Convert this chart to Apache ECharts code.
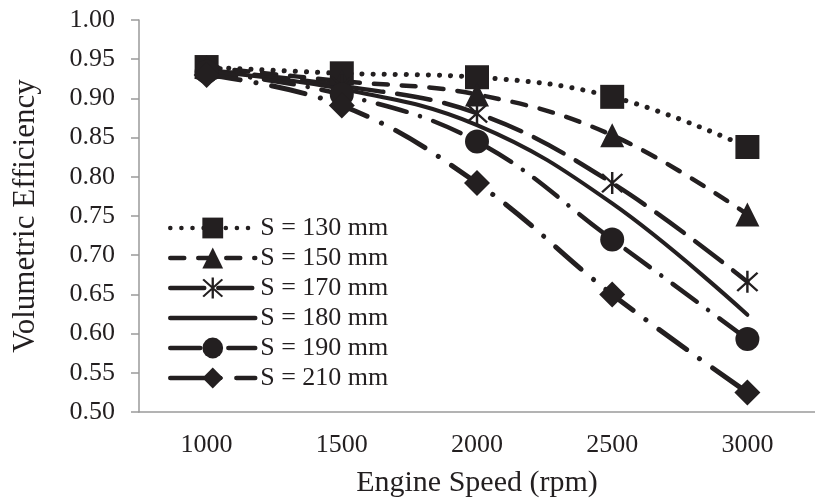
<!DOCTYPE html>
<html><head><meta charset="utf-8">
<script src="https://cdn.jsdelivr.net/npm/echarts@6/dist/echarts.min.js"></script>
<style>html,body{margin:0;padding:0;background:#fff}#c{width:815px;height:503px}</style>
</head><body><div id="c"></div>
<script>
var categories = ['1000', '1500', '2000', '2500', '3000'];
var s130 = [0.940, 0.932, 0.927, 0.902, 0.838];
var s150 = [0.940, 0.922, 0.905, 0.853, 0.752];
var s170 = [0.936, 0.916, 0.881, 0.792, 0.666];
var s180 = [0.935, 0.912, 0.866, 0.766, 0.624];
var s190 = [0.934, 0.905, 0.845, 0.720, 0.593];
var s210 = [0.930, 0.891, 0.792, 0.650, 0.525];
var names = ['S = 130 mm', 'S = 150 mm', 'S = 170 mm', 'S = 180 mm', 'S = 190 mm', 'S = 210 mm'];

var ink = '#231f20';
var font = '"Liberation Serif", "Times New Roman", serif';
var star = 'path://M9,0 L11,0 L11,20 L9,20 Z M1,2.4 L2.4,1 L19,17.6 L17.6,19 Z M17.6,1 L19,2.4 L2.4,19 L1,17.6 Z';

function mk(name, data, symbol, size, dash, width) {
  return {
    name: name, type: 'line', data: data, smooth: 0.4,
    symbol: symbol, symbolSize: size, showSymbol: size > 0,
    itemStyle: { color: ink },
    lineStyle: { color: ink, width: width, type: dash, cap: 'round' },
    z: 2
  };
}

var legendData = names.map(function (n, i) {
  return i === 3 ? { name: n, itemStyle: { opacity: 0 } } : { name: n };
});

var chart = echarts.init(document.getElementById('c'));
chart.setOption({
  animation: false,
  backgroundColor: '#fff',
  grid: { left: 139, top: 20, width: 680, bottom: 91, containLabel: false },
  legend: {
    orient: 'vertical', left: 163, top: 210,
    itemWidth: 85, itemHeight: 26, itemGap: 4,
    lineStyle: { width: 4.5, cap: 'round' },
    textStyle: { fontFamily: font, fontSize: 26, color: ink, lineHeight: 26 },
    data: legendData
  },
  xAxis: {
    type: 'category', data: categories,
    name: 'Engine Speed (rpm)', nameLocation: 'middle', nameGap: 56,
    nameTextStyle: { fontFamily: font, fontSize: 30, color: ink },
    axisLine: { lineStyle: { color: '#9a9a9a', width: 1.5 } },
    axisTick: { length: 10, lineStyle: { color: '#9a9a9a', width: 1.5 } },
    axisLabel: { fontFamily: font, fontSize: 26, color: ink, margin: 20 }
  },
  yAxis: {
    type: 'value', min: 0.5, max: 1.0, interval: 0.05,
    name: 'Volumetric Efficiency', nameLocation: 'middle', nameGap: 98,
    nameTextStyle: { fontFamily: font, fontSize: 31, color: ink },
    axisLine: { show: true, lineStyle: { color: '#9a9a9a', width: 1.5 } },
    axisTick: { show: true, length: 8, lineStyle: { color: '#9a9a9a', width: 1.5 } },
    splitLine: { show: false },
    axisLabel: { fontFamily: font, fontSize: 26, color: ink, margin: 24,
      formatter: function (v) { return v.toFixed(2); } }
  },
  series: [
    mk(names[0], s130, 'rect', 24, [0.1, 11], 5),
    mk(names[1], s150, 'triangle', 24, [14, 14], 4.5),
    mk(names[2], s170, star, 22, [34, 14], 4.5),
    mk(names[3], s180, 'circle', 0, 'solid', 4),
    mk(names[4], s190, 'circle', 24, [30, 14, 0.1, 14], 4.5),
    mk(names[5], s210, 'diamond', 26, [34, 16, 0.1, 16], 5)
  ]
});
</script></body></html>
